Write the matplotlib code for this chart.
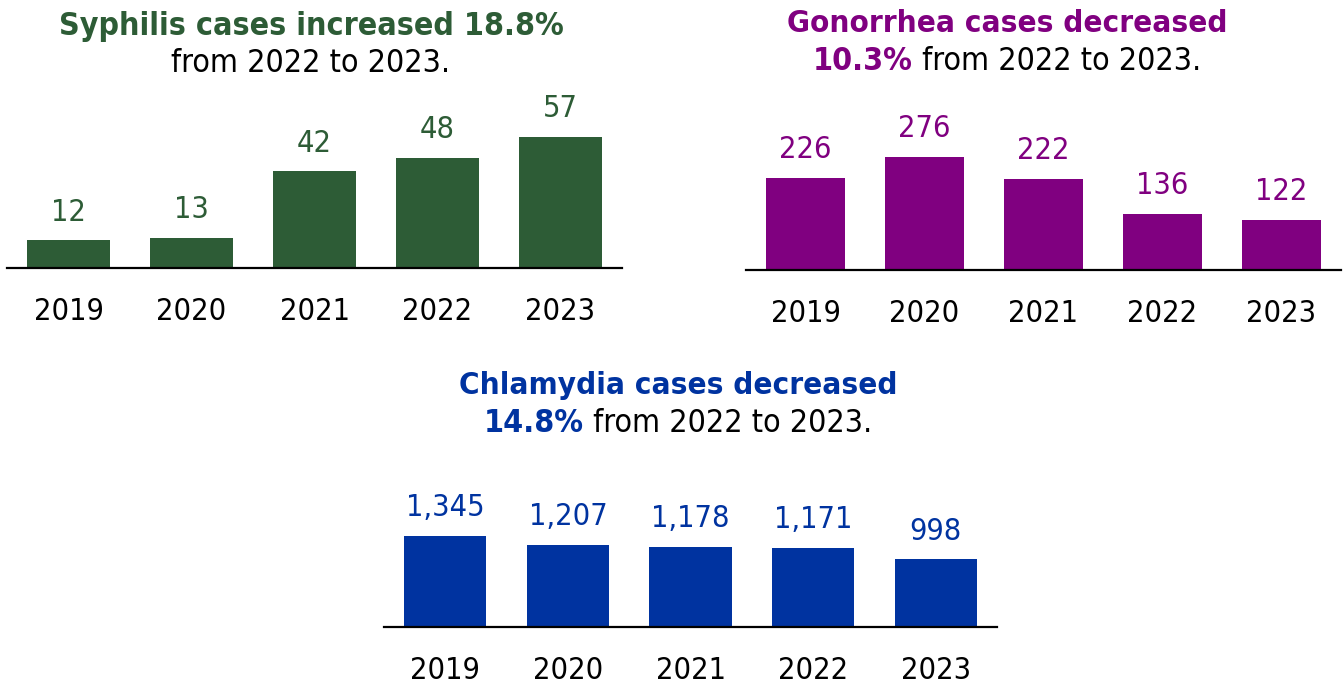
import matplotlib
matplotlib.use('Agg')
import matplotlib.pyplot as plt

years = ['2019', '2020', '2021', '2022', '2023']
syphilis_cases = [12, 13, 42, 48, 57]
gonorrhea_cases = [226, 276, 222, 136, 122]
chlamydia_cases = [1345, 1207, 1178, 1171, 998]

GREEN = '#2d5c36'
PURPLE = '#800080'
BLUE = '#0033a0'

plt.rcParams['font.family'] = ['DejaVu Sans']
plt.rcParams['font.stretch'] = 'condensed'

W, H = 1343, 688
fig = plt.figure(figsize=(W / 100, H / 100), dpi=100)


def px_axes(left, right, baseline, height):
    # box in pixels, measured from the top left of the picture
    return fig.add_axes([left / W, (H - baseline) / H, (right - left) / W, height / H])


def bar_panel(ax, values, color, ymax):
    ax.bar(years, values, width=0.67, color=color)
    ax.set_xlim(-0.5, 4.5)
    ax.set_ylim(0, ymax)
    for s in ['top', 'left', 'right']:
        ax.spines[s].set_visible(False)
    ax.spines['bottom'].set_linewidth(1.6)
    ax.set_yticks([])
    ax.tick_params(axis='x', length=0, pad=21, labelsize=22)
    ax.patch.set_alpha(0)
    for i, v in enumerate(values):
        ax.annotate(f'{v:,}', (i, v), xytext=(0, 10), textcoords='offset points',
                    ha='center', va='bottom', fontsize=22, color=color)


def one_line(x, y, txt, color, bold=False, size=23):
    fig.text(x / W, 1 - y / H, txt, ha='center', va='center', fontsize=size,
             color=color, weight='bold' if bold else 'normal')


def two_part_line(x, y, bold_txt, rest_txt, color, size=23):
    renderer = fig.canvas.get_renderer()
    t1 = fig.text(0, 1 - y / H, bold_txt, va='center', fontsize=size, color=color, weight='bold')
    t2 = fig.text(0, 1 - y / H, rest_txt, va='center', fontsize=size, color='black')
    w1 = t1.get_window_extent(renderer).width
    w2 = t2.get_window_extent(renderer).width
    start = x - (w1 + w2) / 2
    t1.set_x(start / W)
    t2.set_x((start + w1) / W)


# syphilis, top left
ax1 = px_axes(7, 622, 268, 80 * 2.3)
bar_panel(ax1, syphilis_cases, GREEN, 80)
one_line(311, 26, 'Syphilis cases increased 18.8%', GREEN, bold=True)
one_line(311, 64, 'from 2022 to 2023.', 'black')

# gonorrhea, top right
ax2 = px_axes(746, 1341, 270, 350 * 0.409)
bar_panel(ax2, gonorrhea_cases, PURPLE, 350)
one_line(1007, 23, 'Gonorrhea cases decreased', PURPLE, bold=True, size=22.5)
two_part_line(1007, 61, '10.3%', ' from 2022 to 2023.', PURPLE)

# chlamydia, bottom
ax3 = px_axes(384, 997, 627, 2000 * 0.0677)
bar_panel(ax3, chlamydia_cases, BLUE, 2000)
one_line(678, 385, 'Chlamydia cases decreased', BLUE, bold=True, size=22.5)
two_part_line(678, 423, '14.8%', ' from 2022 to 2023.', BLUE)

fig.savefig('out.png', dpi=100)
